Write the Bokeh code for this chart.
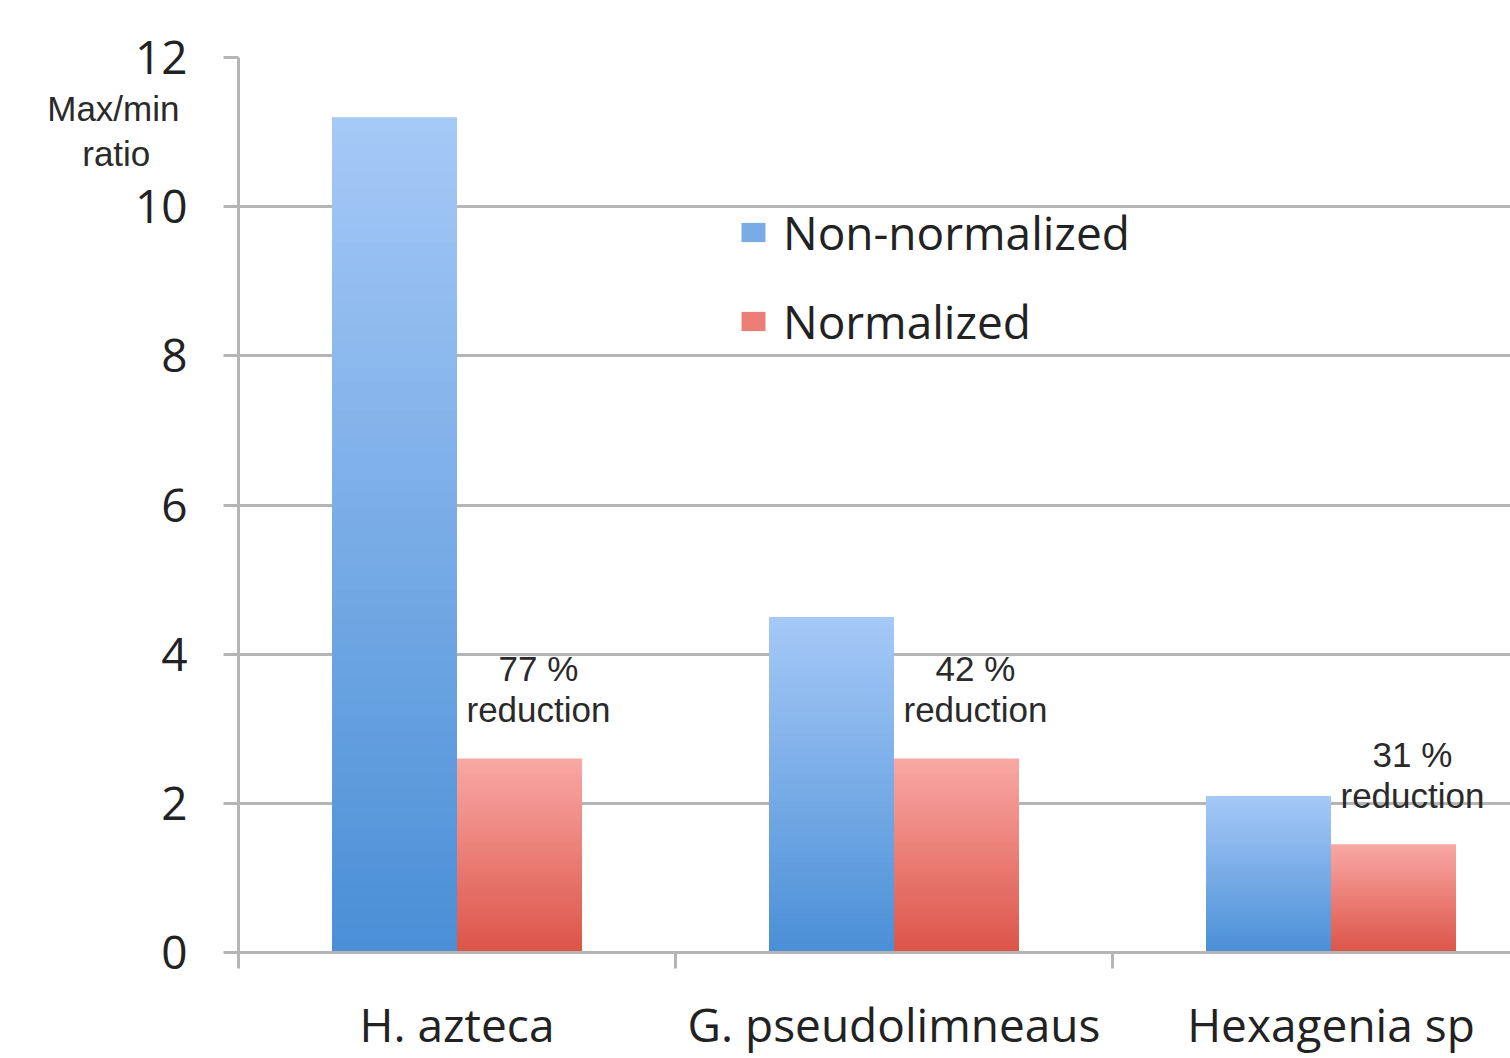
from bokeh.plotting import figure
from bokeh.models import (Range1d, FixedTicker, ColumnDataSource, Legend, LegendItem, LinearAxis)
from bokeh.core.properties import value
from bokeh.embed import file_html
from bokeh.resources import INLINE

# ---- data ----
categories = ["H. azteca", "G. pseudolimneaus", "Hexagenia sp"]
non_normalized = [11.2, 4.5, 2.1]
normalized = [2.6, 2.6, 1.45]
pct_labels = ["77 %", "42 %", "31 %"]
reduction_word = ["reduction", "reduction", "reduction"]
y_ticks = [0, 2, 4, 6, 8, 10, 12]
y_title = "Max/min\nratio\u00a0\u00a0\u00a0"
y_title_at = 11.02

# ---- style ----
BAR_W = 0.286
N_SLICES = 60
BLUE_BOTTOM, BLUE_TOP = (74, 143, 214), (166, 201, 247)
RED_BOTTOM, RED_TOP = (220, 84, 72), (249, 168, 164)
GRID = "#b5b5b5"
TXT = "#222222"


def mix(c0, c1, t):
    return "#%02x%02x%02x" % tuple(int(round(a + (b - a) * t)) for a, b in zip(c0, c1))


def gradient_source(values, offset, c_bottom, c_top):
    d = dict(left=[], right=[], bottom=[], top=[], color=[])
    for i, v in enumerate(values):
        x0 = i + 0.5 + offset
        for k in range(N_SLICES):
            b = v * k / N_SLICES
            t = min(v, v * (k + 1.6) / N_SLICES)
            d["left"].append(x0)
            d["right"].append(x0 + BAR_W)
            d["bottom"].append(b)
            d["top"].append(t)
            d["color"].append(mix(c_bottom, c_top, (k + 0.5) / N_SLICES))
    return ColumnDataSource(d)


W, H = 1510, 1058
LEFT, TOP, BOTTOM = 238, 57, 106
p = figure(width=W, height=H, output_backend="svg", toolbar_location=None,
           x_range=Range1d(0, (W - LEFT) / 437), y_range=Range1d(0, 12),
           min_border_left=LEFT, min_border_right=0, min_border_top=TOP, min_border_bottom=BOTTOM)
p.outline_line_color = None
p.background_fill_color = "white"
p.border_fill_color = "white"

# grid
p.xgrid.grid_line_color = None
p.ygrid.grid_line_color = GRID
p.ygrid.grid_line_width = 3
p.ygrid.ticker = FixedTicker(ticks=y_ticks)

# y axis
p.yaxis.ticker = FixedTicker(ticks=y_ticks)
p.yaxis.axis_line_color = GRID
p.yaxis.axis_line_width = 3
p.yaxis.major_tick_line_color = GRID
p.yaxis.major_tick_line_width = 3
p.yaxis.major_tick_out = 15
p.yaxis.major_tick_in = 0
p.yaxis.minor_tick_line_color = None
p.yaxis.major_label_text_font = "Open Sans"
p.yaxis.major_label_text_font_size = "46px"
p.yaxis.major_label_text_color = TXT
p.yaxis.major_label_standoff = 36

# y axis title, drawn as the single label of an outer, line-less axis
title_axis = LinearAxis(ticker=FixedTicker(ticks=[y_title_at]),
                        major_label_overrides={y_title_at: y_title})
title_axis.axis_line_color = None
title_axis.major_tick_line_color = None
title_axis.minor_tick_line_color = None
title_axis.major_tick_out = 0
title_axis.major_tick_in = 0
title_axis.major_label_standoff = -48
title_axis.major_label_text_font = "Liberation Sans"
title_axis.major_label_text_font_size = "35px"
title_axis.major_label_text_color = "#2a2a2a"
title_axis.major_label_text_line_height = 1.15
p.add_layout(title_axis, "left")

# x axis
centers = [i + 0.5 for i in range(len(categories))]
p.xaxis.ticker = FixedTicker(ticks=centers, minor_ticks=list(range(len(categories) + 1)))
p.xaxis.major_label_overrides = {c: name for c, name in zip(centers, categories)}
p.xaxis.axis_line_color = GRID
p.xaxis.axis_line_width = 3
p.xaxis.major_tick_line_color = None
p.xaxis.major_tick_out = 0
p.xaxis.major_tick_in = 0
p.xaxis.minor_tick_line_color = GRID
p.xaxis.minor_tick_line_width = 3
p.xaxis.minor_tick_out = 16
p.xaxis.minor_tick_in = 0
p.xaxis.major_label_text_font = "Open Sans"
p.xaxis.major_label_text_font_size = "46px"
p.xaxis.major_label_text_color = TXT
p.xaxis.major_label_standoff = 24

# bars (vertical gradients built from slices)
src_blue = gradient_source(non_normalized, -BAR_W, BLUE_BOTTOM, BLUE_TOP)
src_red = gradient_source(normalized, 0.0, RED_BOTTOM, RED_TOP)
r_blue = p.quad(left="left", right="right", bottom="bottom", top="top", source=src_blue,
                fill_color="color", line_color=None)
r_red = p.quad(left="left", right="right", bottom="bottom", top="top", source=src_red,
               fill_color="color", line_color=None)

# reduction annotations
ann = ColumnDataSource(dict(x=[c + BAR_W / 2 for c in centers], y=normalized,
                            l1=pct_labels, l2=reduction_word))
for col, off in (("l1", -90), ("l2", -49)):
    p.text(x="x", y="y", text=col, source=ann, x_offset=19, y_offset=off,
           text_align="center", text_baseline="middle",
           text_font=value("Liberation Sans"), text_font_size="35px", text_color="#2a2a2a")

# legend
legend = Legend(items=[
    LegendItem(label="Non-normalized", renderers=[r_blue], index=N_SLICES // 2),
    LegendItem(label="Normalized", renderers=[r_red], index=N_SLICES + N_SLICES // 2),
], location=(500, 600))
legend.border_line_color = None
legend.background_fill_alpha = 0
legend.label_text_font = "Open Sans"
legend.label_text_font_size = "46px"
legend.label_text_color = TXT
legend.glyph_width = 30
legend.glyph_height = 24
legend.label_standoff = 15
legend.spacing = 27
legend.padding = 0
legend.margin = 0
p.add_layout(legend, "center")

open("out.html", "w").write(file_html(p, INLINE))
